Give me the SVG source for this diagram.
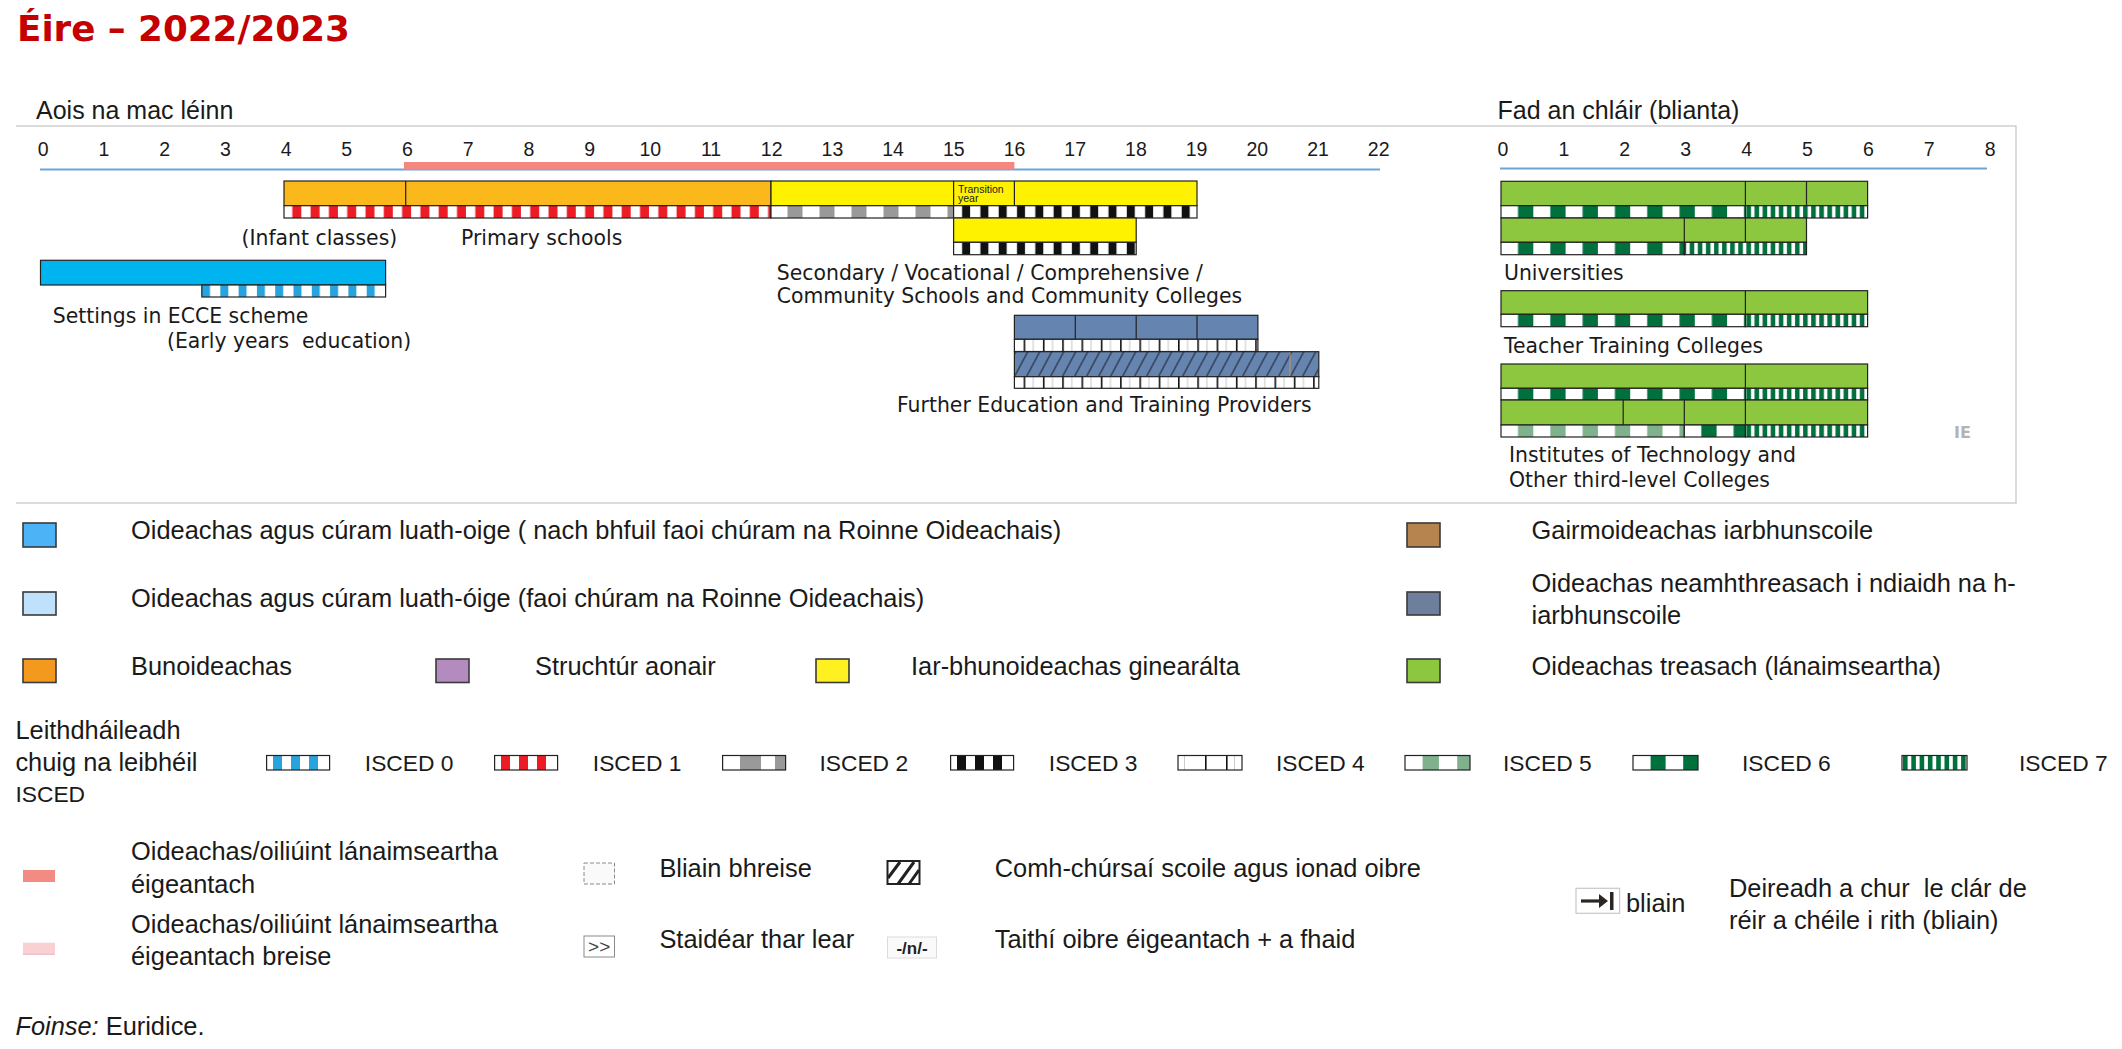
<svg xmlns="http://www.w3.org/2000/svg" width="2122" height="1049" viewBox="0 0 2122 1049">
<style>
text{font-family:"Liberation Sans",Arial,sans-serif;fill:#1a1a1a;white-space:pre}
.ax{font-size:19.5px;text-anchor:middle}
.hd{font-size:25px}
.lab{font-family:"DejaVu Sans",Verdana,sans-serif;font-size:20.4px}
.leg{font-size:25.4px}
.isc{font-size:22.8px}
.bar{stroke:#222;stroke-width:1.2}
.dv{stroke:#222;stroke-width:1.2}
.sw{stroke:#3a3a3a;stroke-width:1.6}
.gl{stroke:#cfcfcf;stroke-width:1.5;fill:none}
</style>
<defs>
<pattern id="i0" patternUnits="userSpaceOnUse" x="202" y="0" width="18.3" height="20"><rect width="18.3" height="20" fill="#fff"/><rect width="8" height="20" fill="#29a3dd"/></pattern>
<pattern id="i1" patternUnits="userSpaceOnUse" x="284" y="0" width="18.3" height="20"><rect width="18.3" height="20" fill="#fff"/><rect x="8.3" width="9" height="20" fill="#ed1c24"/></pattern>
<pattern id="i2" patternUnits="userSpaceOnUse" x="771" y="0" width="32" height="20"><rect width="32" height="20" fill="#fff"/><rect x="16.5" width="15" height="20" fill="#999"/></pattern>
<pattern id="i3" patternUnits="userSpaceOnUse" x="953.6" y="0" width="18.3" height="20"><rect width="18.3" height="20" fill="#fff"/><rect x="8.5" width="8" height="20" fill="#111"/></pattern>
<pattern id="i4" patternUnits="userSpaceOnUse" x="1042.9" y="0" width="19.3" height="20"><rect width="19.3" height="20" fill="#fff"/><rect width="1.6" height="20" fill="#111"/><rect x="9" width="1.2" height="20" fill="#d0d0d0"/></pattern>
<pattern id="i5" patternUnits="userSpaceOnUse" x="1501" y="0" width="32.3" height="20"><rect width="32.3" height="20" fill="#fff"/><rect x="17" width="15.5" height="20" fill="#7fb18d"/></pattern>
<pattern id="i6" patternUnits="userSpaceOnUse" x="1501" y="0" width="32.3" height="20"><rect width="32.3" height="20" fill="#fff"/><rect x="17" width="15.5" height="20" fill="#00703c"/></pattern>
<pattern id="i6b" patternUnits="userSpaceOnUse" x="1684.3" y="0" width="32.3" height="20"><rect width="32.3" height="20" fill="#fff"/><rect x="17" width="15.5" height="20" fill="#00703c"/></pattern>
<pattern id="i7" patternUnits="userSpaceOnUse" x="1745.4" y="0" width="8.1" height="20"><rect width="8.1" height="20" fill="#fff"/><rect x="1" width="4.6" height="20" fill="#00703c"/></pattern>
<pattern id="hat" patternUnits="userSpaceOnUse" x="1014.4" y="351.7" width="12" height="25"><rect width="12" height="25" fill="#6585b0"/><path d="M-12 25L1.4 0M0 25L13.4 0" stroke="#111" stroke-width="1"/></pattern>
</defs>
<rect width="2122" height="1049" fill="#fff"/>

<text x="17" y="41" style="font-family:'DejaVu Sans',Verdana,sans-serif;font-size:35.7px;font-weight:bold;fill:#c40000">Éire – 2022/2023</text>

<g id="frame">
<path class="gl" d="M16 126H2016V503H16"/>
</g>

<g id="axes">
<text class="hd" x="36" y="119">Aois na mac léinn</text>
<text class="hd" x="1497.6" y="119">Fad an chláir (blianta)</text>
<g>
<text class="ax" x="43.3" y="156">0</text><text class="ax" x="104" y="156">1</text><text class="ax" x="164.7" y="156">2</text><text class="ax" x="225.4" y="156">3</text><text class="ax" x="286.1" y="156">4</text><text class="ax" x="346.8" y="156">5</text><text class="ax" x="407.5" y="156">6</text><text class="ax" x="468.2" y="156">7</text><text class="ax" x="528.9" y="156">8</text><text class="ax" x="589.6" y="156">9</text><text class="ax" x="650.3" y="156">10</text><text class="ax" x="711" y="156">11</text><text class="ax" x="771.7" y="156">12</text><text class="ax" x="832.4" y="156">13</text><text class="ax" x="893.1" y="156">14</text><text class="ax" x="953.8" y="156">15</text><text class="ax" x="1014.5" y="156">16</text><text class="ax" x="1075.2" y="156">17</text><text class="ax" x="1135.9" y="156">18</text><text class="ax" x="1196.6" y="156">19</text><text class="ax" x="1257.3" y="156">20</text><text class="ax" x="1318" y="156">21</text><text class="ax" x="1378.7" y="156">22</text>
<text class="ax" x="1503" y="156">0</text><text class="ax" x="1563.9" y="156">1</text><text class="ax" x="1624.8" y="156">2</text><text class="ax" x="1685.7" y="156">3</text><text class="ax" x="1746.6" y="156">4</text><text class="ax" x="1807.5" y="156">5</text><text class="ax" x="1868.4" y="156">6</text><text class="ax" x="1929.3" y="156">7</text><text class="ax" x="1990.2" y="156">8</text>
</g>
<line x1="40" y1="169.5" x2="1380" y2="169.5" stroke="#6fa3d8" stroke-width="2"/>
<rect x="404" y="162" width="610.4" height="7.5" fill="#f4877f"/>
<line x1="1500" y1="168.5" x2="1987" y2="168.5" stroke="#6fa3d8" stroke-width="2"/>
</g>

<g id="primary">
<rect class="bar" x="284" y="181" width="487" height="24.7" fill="#fbb81a"/>
<line class="dv" x1="405.7" y1="181" x2="405.7" y2="205.7"/>
<rect class="bar" x="284" y="205.7" width="487" height="12.3" fill="url(#i1)"/>
<text class="lab" x="241.5" y="245">(Infant classes)</text>
<text class="lab" x="461" y="245">Primary schools</text>
</g>

<g id="secondary">
<rect class="bar" x="771" y="181" width="426" height="24.7" fill="#fff200"/>
<line class="dv" x1="953.6" y1="181" x2="953.6" y2="205.7"/>
<line class="dv" x1="1014.4" y1="181" x2="1014.4" y2="205.7"/>
<text x="958" y="193" style="font-size:10.5px">Transition</text>
<text x="958" y="201.5" style="font-size:10.5px">year</text>
<rect class="bar" x="771" y="205.7" width="182.6" height="12.3" fill="url(#i2)"/>
<rect class="bar" x="953.6" y="205.7" width="243.4" height="12.3" fill="url(#i3)"/>
<rect class="bar" x="953.6" y="218" width="182.6" height="24.3" fill="#fff200"/>
<rect class="bar" x="953.6" y="242.3" width="182.6" height="12.4" fill="url(#i3)"/>
<text class="lab" x="776.8" y="280">Secondary / Vocational / Comprehensive /</text>
<text class="lab" x="776.8" y="303.3">Community Schools and Community Colleges</text>
</g>

<g id="ecce">
<rect class="bar" x="40.5" y="260.3" width="345.1" height="24.7" fill="#00b4ef"/>
<rect class="bar" x="201.8" y="285" width="183.8" height="12" fill="url(#i0)"/>
<text class="lab" x="52.7" y="322.7">Settings in ECCE scheme</text>
<text class="lab" x="167" y="348" xml:space="preserve">(Early years  education)</text>
</g>

<g id="further-education">
<rect class="bar" x="1014.4" y="315.3" width="243.5" height="24" fill="#6585b0"/>
<line class="dv" x1="1075.3" y1="315.3" x2="1075.3" y2="339.3"/>
<line class="dv" x1="1136.2" y1="315.3" x2="1136.2" y2="339.3"/>
<line class="dv" x1="1197" y1="315.3" x2="1197" y2="339.3"/>
<rect class="bar" x="1014.4" y="339.3" width="243.5" height="12.2" fill="url(#i4)"/>
<rect class="bar" x="1014.4" y="351.7" width="304.4" height="25" fill="url(#hat)"/>
<line x1="1290" y1="352.5" x2="1290" y2="376" stroke="#c9906a" stroke-width="1"/>
<rect class="bar" x="1014.4" y="376.7" width="304.4" height="11.6" fill="url(#i4)"/>
<text class="lab" x="897" y="411.7">Further Education and Training Providers</text>
</g>

<g id="universities">
<rect class="bar" x="1501" y="181.3" width="366.6" height="24.4" fill="#8dc63f"/>
<line class="dv" x1="1745.4" y1="181.3" x2="1745.4" y2="205.7"/>
<line class="dv" x1="1806.5" y1="181.3" x2="1806.5" y2="205.7"/>
<rect class="bar" x="1501" y="205.7" width="244.4" height="12.3" fill="url(#i6)"/>
<rect class="bar" x="1745.4" y="205.7" width="122.2" height="12.3" fill="url(#i7)"/>
<rect class="bar" x="1501" y="218" width="305.5" height="24.3" fill="#8dc63f"/>
<line class="dv" x1="1684.3" y1="218" x2="1684.3" y2="242.3"/>
<line class="dv" x1="1745.4" y1="218" x2="1745.4" y2="242.3"/>
<rect class="bar" x="1501" y="242.3" width="183.3" height="12.4" fill="url(#i6)"/>
<rect class="bar" x="1684.3" y="242.3" width="122.2" height="12.4" fill="url(#i7)"/>
<text class="lab" x="1504" y="280">Universities</text>
</g>

<g id="teacher-training">
<rect class="bar" x="1501" y="290.7" width="366.6" height="23.6" fill="#8dc63f"/>
<line class="dv" x1="1745.4" y1="290.7" x2="1745.4" y2="314.3"/>
<rect class="bar" x="1501" y="314.3" width="244.4" height="12.4" fill="url(#i6)"/>
<rect class="bar" x="1745.4" y="314.3" width="122.2" height="12.4" fill="url(#i7)"/>
<text class="lab" x="1504" y="353.3">Teacher Training Colleges</text>
</g>

<g id="institutes">
<rect class="bar" x="1501" y="364" width="366.6" height="24.3" fill="#8dc63f"/>
<line class="dv" x1="1745.4" y1="364" x2="1745.4" y2="388.3"/>
<rect class="bar" x="1501" y="388.3" width="244.4" height="11.7" fill="url(#i6)"/>
<rect class="bar" x="1745.4" y="388.3" width="122.2" height="11.7" fill="url(#i7)"/>
<rect class="bar" x="1501" y="400" width="366.6" height="25" fill="#8dc63f"/>
<line class="dv" x1="1623.2" y1="400" x2="1623.2" y2="425"/>
<line class="dv" x1="1684.3" y1="400" x2="1684.3" y2="425"/>
<line class="dv" x1="1745.4" y1="400" x2="1745.4" y2="425"/>
<rect class="bar" x="1501" y="425" width="183.3" height="12" fill="url(#i5)"/>
<rect class="bar" x="1684.3" y="425" width="61.1" height="12" fill="url(#i6b)"/>
<rect class="bar" x="1745.4" y="425" width="122.2" height="12" fill="url(#i7)"/>
<text class="lab" x="1509" y="462.3">Institutes of Technology and</text>
<text class="lab" x="1509" y="486.7">Other third-level Colleges</text>
</g>

<text x="1954" y="437.7" style="font-family:'DejaVu Sans',Verdana,sans-serif;font-size:16px;font-weight:bold;fill:#b3b3b3">IE</text>

<g id="connectors"/>

<g id="legend-categories">
<rect class="sw" x="23" y="523" width="33" height="24" fill="#4db3f7"/>
<text class="leg" x="131" y="539">Oideachas agus cúram luath-oige ( nach bhfuil faoi chúram na Roinne Oideachais)</text>
<rect class="sw" x="23" y="592" width="33" height="23" fill="#bfe1fb"/>
<text class="leg" x="131" y="607">Oideachas agus cúram luath-óige (faoi chúram na Roinne Oideachais)</text>
<rect class="sw" x="23" y="659" width="33" height="23.5" fill="#f39a1e"/>
<text class="leg" x="131" y="675">Bunoideachas</text>
<rect class="sw" x="436" y="659" width="33" height="23.5" fill="#b48bbe"/>
<text class="leg" x="535" y="675">Struchtúr aonair</text>
<rect class="sw" x="816" y="659" width="33" height="23.5" fill="#fff021"/>
<text class="leg" x="911" y="675">Iar-bhunoideachas ginearálta</text>
<rect class="sw" x="1407" y="523" width="33" height="24" fill="#b5844f"/>
<text class="leg" x="1531.6" y="539">Gairmoideachas iarbhunscoile</text>
<rect class="sw" x="1407" y="592" width="33" height="23" fill="#6e7f9e"/>
<text class="leg" x="1531.6" y="592">Oideachas neamhthreasach i ndiaidh na h-</text>
<text class="leg" x="1531.6" y="624">iarbhunscoile</text>
<rect class="sw" x="1407" y="659" width="33" height="23.5" fill="#8dc63f"/>
<text class="leg" x="1531.6" y="675">Oideachas treasach (lánaimseartha)</text>
</g>

<g id="legend-isced">
<text class="leg" x="15.4" y="739">Leithdháileadh</text>
<text class="leg" x="15.4" y="771">chuig na leibhéil</text>
<text class="isc" x="15.4" y="802">ISCED</text>
<g stroke="none">
<rect x="266.6" y="755.5" width="63" height="14.5" fill="#fff"/>
<rect x="273" y="755.5" width="9" height="14.5" fill="#29a3dd"/><rect x="291" y="755.5" width="9" height="14.5" fill="#29a3dd"/><rect x="309" y="755.5" width="9" height="14.5" fill="#29a3dd"/>
<rect x="494.6" y="755.5" width="63" height="14.5" fill="#fff"/>
<rect x="501" y="755.5" width="9" height="14.5" fill="#ed1c24"/><rect x="519" y="755.5" width="9" height="14.5" fill="#ed1c24"/><rect x="537" y="755.5" width="9" height="14.5" fill="#ed1c24"/>
<rect x="722.6" y="755.5" width="63" height="14.5" fill="#fff"/>
<rect x="740" y="755.5" width="21" height="14.5" fill="#999"/><rect x="775" y="755.5" width="10.6" height="14.5" fill="#999"/>
<rect x="950.6" y="755.5" width="63" height="14.5" fill="#fff"/>
<rect x="957" y="755.5" width="9" height="14.5" fill="#111"/><rect x="975" y="755.5" width="9" height="14.5" fill="#111"/><rect x="993" y="755.5" width="9" height="14.5" fill="#111"/>
<rect x="1178" y="755.5" width="64" height="14.5" fill="#fff"/>
<rect x="1184" y="755.5" width="1" height="14.5" fill="#ccc"/><rect x="1205" y="755.5" width="1.6" height="14.5" fill="#111"/><rect x="1226" y="755.5" width="1.6" height="14.5" fill="#111"/><rect x="1234" y="755.5" width="1" height="14.5" fill="#ccc"/>
<rect x="1405" y="755.5" width="65" height="14.5" fill="#fff"/>
<rect x="1422.6" y="755.5" width="16.3" height="14.5" fill="#7fb18d"/><rect x="1457.2" y="755.5" width="12.8" height="14.5" fill="#7fb18d"/>
<rect x="1633" y="755.5" width="65" height="14.5" fill="#fff"/>
<rect x="1650.6" y="755.5" width="15" height="14.5" fill="#00703c"/><rect x="1683.2" y="755.5" width="14.8" height="14.5" fill="#00703c"/>
<rect x="1902" y="755.5" width="65" height="14.5" fill="#fff"/>
<rect x="1903" y="755.5" width="4.6" height="14.5" fill="#00703c"/><rect x="1911.3" y="755.5" width="4.6" height="14.5" fill="#00703c"/><rect x="1919.6" y="755.5" width="4.6" height="14.5" fill="#00703c"/><rect x="1927.9" y="755.5" width="4.6" height="14.5" fill="#00703c"/><rect x="1936.2" y="755.5" width="4.6" height="14.5" fill="#00703c"/><rect x="1944.5" y="755.5" width="4.6" height="14.5" fill="#00703c"/><rect x="1952.8" y="755.5" width="4.6" height="14.5" fill="#00703c"/><rect x="1961.1" y="755.5" width="4.6" height="14.5" fill="#00703c"/>
</g>
<g fill="none" stroke="#222" stroke-width="1.2">
<rect x="266.6" y="755.5" width="63" height="14.5"/><rect x="494.6" y="755.5" width="63" height="14.5"/><rect x="722.6" y="755.5" width="63" height="14.5"/><rect x="950.6" y="755.5" width="63" height="14.5"/><rect x="1178" y="755.5" width="64" height="14.5"/><rect x="1405" y="755.5" width="65" height="14.5"/><rect x="1633" y="755.5" width="65" height="14.5"/><rect x="1902" y="755.5" width="65" height="14.5"/>
</g>
<text class="isc" x="364.8" y="771">ISCED 0</text>
<text class="isc" x="592.8" y="771">ISCED 1</text>
<text class="isc" x="819.4" y="771">ISCED 2</text>
<text class="isc" x="1048.8" y="771">ISCED 3</text>
<text class="isc" x="1276" y="771">ISCED 4</text>
<text class="isc" x="1503" y="771">ISCED 5</text>
<text class="isc" x="1742" y="771">ISCED 6</text>
<text class="isc" x="2019" y="771">ISCED 7</text>
</g>

<g id="legend-other">
<rect x="23" y="870" width="32" height="12" fill="#f28b82"/>
<text class="leg" x="131" y="860">Oideachas/oiliúint lánaimseartha</text>
<text class="leg" x="131" y="893">éigeantach</text>
<rect x="23" y="942.7" width="32" height="12" fill="#f9d1d4"/>
<line x1="23" y1="954.2" x2="55" y2="954.2" stroke="#e6b9bd" stroke-width="1"/>
<text class="leg" x="131" y="933">Oideachas/oiliúint lánaimseartha</text>
<text class="leg" x="131" y="965">éigeantach breise</text>
<rect x="584" y="863" width="30.5" height="21" fill="#fafafa" stroke="#8a8a8a" stroke-width="1" stroke-dasharray="4 2"/>
<text class="leg" x="659.4" y="876.7">Bliain bhreise</text>
<rect x="584" y="936" width="30.5" height="21" fill="#fff" stroke="#8a8a8a" stroke-width="1"/>
<text x="599.2" y="953" style="font-size:19px;text-anchor:middle;fill:#444">&gt;&gt;</text>
<text class="leg" x="659.4" y="948.3">Staidéar thar lear</text>
<rect x="887.5" y="861" width="32" height="23" fill="#fff" stroke="#222" stroke-width="2"/>
<path d="M888 878L900 862M898 884L914 862M909 884L919 870" stroke="#222" stroke-width="3" fill="none"/>
<text class="leg" x="994.7" y="876.7">Comh-chúrsaí scoile agus ionad oibre</text>
<rect x="887.5" y="937" width="49" height="21" fill="#fafafa" stroke="#dcdcdc" stroke-width="1"/>
<text x="912" y="954" style="font-size:17px;font-weight:bold;text-anchor:middle;fill:#222">-/n/-</text>
<text class="leg" x="994.7" y="948.3">Taithí oibre éigeantach + a fhaid</text>
<rect x="1576" y="888.3" width="43.6" height="25" fill="#fff" stroke="#c8c8c8" stroke-width="1.2"/>
<path d="M1581 901H1604" stroke="#2b2622" stroke-width="3.2"/>
<path d="M1599 894L1608 901L1599 908Z" fill="#2b2622"/>
<rect x="1610" y="892" width="3.5" height="18" fill="#2b2622"/>
<text class="leg" x="1626" y="912">bliain</text>
<text class="leg" x="1729" y="897" xml:space="preserve">Deireadh a chur  le clár de</text>
<text class="leg" x="1729" y="929">réir a chéile i rith (bliain)</text>
<text class="leg" x="15.4" y="1035"><tspan font-style="italic">Foinse:</tspan> Euridice.</text>
</g>
</svg>
